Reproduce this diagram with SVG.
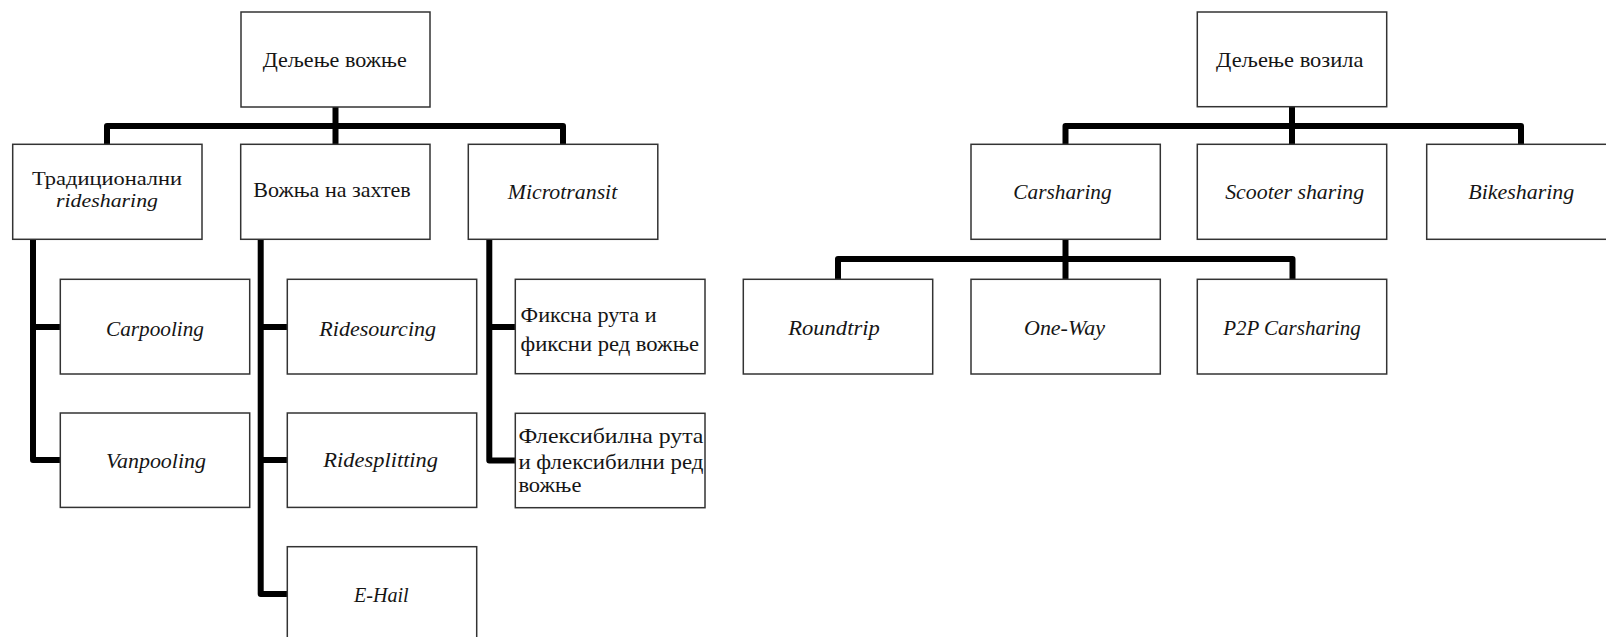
<svg xmlns="http://www.w3.org/2000/svg" width="1606" height="637" viewBox="0 0 1606 637">
  <style>
    .box { fill: #ffffff; stroke: #333333; stroke-width: 1.5; }
    .link { fill: none; stroke: #000000; stroke-width: 6; stroke-linejoin: round; stroke-linecap: butt; }
    .t { font-family: "Liberation Serif", "Times New Roman", serif; font-size: 21.5px; fill: #151515; text-anchor: middle; }
    .s { font-size: 19px; }
    .i { font-style: italic; }
    .l { text-anchor: start; }
  </style>

  <!-- connectors -->
  <g id="connectors">
    <!-- ride sharing tree -->
    <path class="link" d="M107,144 V126 H563 V144"/>
    <path class="link" d="M335.5,107 V144"/>
    <path class="link" d="M33,239.5 V460 H60.3"/>
    <path class="link" d="M33,327 H60.3"/>
    <path class="link" d="M260.7,239.5 V594 H287.3"/>
    <path class="link" d="M260.7,327 H287.3"/>
    <path class="link" d="M260.7,460 H287.3"/>
    <path class="link" d="M489.3,239.5 V460.5 H515.3"/>
    <path class="link" d="M489.3,327 H515.3"/>
    <!-- vehicle sharing tree -->
    <path class="link" d="M1065.5,144 V126 H1521 V144"/>
    <path class="link" d="M1292,107 V144"/>
    <path class="link" d="M838,279.3 V259 H1292.5 V279.3"/>
    <path class="link" d="M1065.5,239.5 V279.3"/>
  </g>

  <!-- ride sharing -->
  <g id="ride-sharing">
    <rect class="box" x="241" y="12" width="189" height="95"/>
    <text class="t" x="334.7" y="67" textLength="144" lengthAdjust="spacingAndGlyphs">Дељење вожње</text>
  </g>
  <g id="traditional">
    <rect class="box" x="12.7" y="144.3" width="189.3" height="95"/>
    <text class="t s" x="107" y="185" textLength="150" lengthAdjust="spacingAndGlyphs">Традиционални</text>
    <text class="t s i" x="107" y="207" textLength="102" lengthAdjust="spacingAndGlyphs">ridesharing</text>
  </g>
  <g id="on-demand">
    <rect class="box" x="240.7" y="144.3" width="189.3" height="95"/>
    <text class="t" x="332" y="197" textLength="157.5" lengthAdjust="spacingAndGlyphs">Вожња на захтев</text>
  </g>
  <g id="microtransit">
    <rect class="box" x="468.3" y="144.3" width="189.5" height="95"/>
    <text class="t i" x="562.5" y="199" textLength="109.5" lengthAdjust="spacingAndGlyphs">Microtransit</text>
  </g>
  <g id="carpooling">
    <rect class="box" x="60.3" y="279.3" width="189.4" height="94.7"/>
    <text class="t i" x="155" y="336" textLength="98" lengthAdjust="spacingAndGlyphs">Carpooling</text>
  </g>
  <g id="vanpooling">
    <rect class="box" x="60.3" y="413" width="189.4" height="94.4"/>
    <text class="t i" x="156" y="468" textLength="100" lengthAdjust="spacingAndGlyphs">Vanpooling</text>
  </g>
  <g id="ridesourcing">
    <rect class="box" x="287.3" y="279.3" width="189.4" height="94.7"/>
    <text class="t i" x="377.7" y="336" textLength="116.7" lengthAdjust="spacingAndGlyphs">Ridesourcing</text>
  </g>
  <g id="ridesplitting">
    <rect class="box" x="287.3" y="413" width="189.4" height="94.4"/>
    <text class="t i" x="380.7" y="467" textLength="114.7" lengthAdjust="spacingAndGlyphs">Ridesplitting</text>
  </g>
  <g id="e-hail">
    <rect class="box" x="287.3" y="546.7" width="189.4" height="95"/>
    <text class="t i" x="381.3" y="602" textLength="54.7" lengthAdjust="spacingAndGlyphs">E-Hail</text>
  </g>
  <g id="fixed-route">
    <rect class="box" x="515.3" y="279.3" width="189.7" height="94.4"/>
    <text class="t l" x="520.6" y="322" textLength="136" lengthAdjust="spacingAndGlyphs">Фиксна рута и</text>
    <text class="t l" x="520.6" y="351" textLength="178.5" lengthAdjust="spacingAndGlyphs">фиксни ред вожње</text>
  </g>
  <g id="flexible-route">
    <rect class="box" x="515.3" y="413.3" width="189.7" height="94.4"/>
    <text class="t l" x="518.4" y="443" textLength="185" lengthAdjust="spacingAndGlyphs">Флексибилна рута</text>
    <text class="t l" x="518.4" y="469" textLength="185" lengthAdjust="spacingAndGlyphs">и флексибилни ред</text>
    <text class="t l" x="518.4" y="492" textLength="63" lengthAdjust="spacingAndGlyphs">вожње</text>
  </g>

  <!-- vehicle sharing -->
  <g id="vehicle-sharing">
    <rect class="box" x="1197.3" y="12" width="189.4" height="94.7"/>
    <text class="t" x="1289.7" y="67" textLength="147.3" lengthAdjust="spacingAndGlyphs">Дељење возила</text>
  </g>
  <g id="carsharing">
    <rect class="box" x="971" y="144.3" width="189.3" height="95"/>
    <text class="t i" x="1062.5" y="199" textLength="98.3" lengthAdjust="spacingAndGlyphs">Carsharing</text>
  </g>
  <g id="scooter-sharing">
    <rect class="box" x="1197.3" y="144.3" width="189.4" height="95"/>
    <text class="t i" x="1294.7" y="199" textLength="139" lengthAdjust="spacingAndGlyphs">Scooter sharing</text>
  </g>
  <g id="bikesharing">
    <rect class="box" x="1426.7" y="144.3" width="189.4" height="95"/>
    <text class="t i" x="1521.3" y="199" textLength="106" lengthAdjust="spacingAndGlyphs">Bikesharing</text>
  </g>
  <g id="roundtrip">
    <rect class="box" x="743.3" y="279.3" width="189.4" height="94.7"/>
    <text class="t i" x="834" y="335" textLength="91.7" lengthAdjust="spacingAndGlyphs">Roundtrip</text>
  </g>
  <g id="one-way">
    <rect class="box" x="971" y="279.3" width="189.3" height="94.7"/>
    <text class="t i" x="1064.5" y="335" textLength="81" lengthAdjust="spacingAndGlyphs">One-Way</text>
  </g>
  <g id="p2p-carsharing">
    <rect class="box" x="1197.3" y="279.3" width="189.4" height="94.7"/>
    <text class="t i" x="1292" y="335" textLength="137.7" lengthAdjust="spacingAndGlyphs">P2P Carsharing</text>
  </g>
</svg>
